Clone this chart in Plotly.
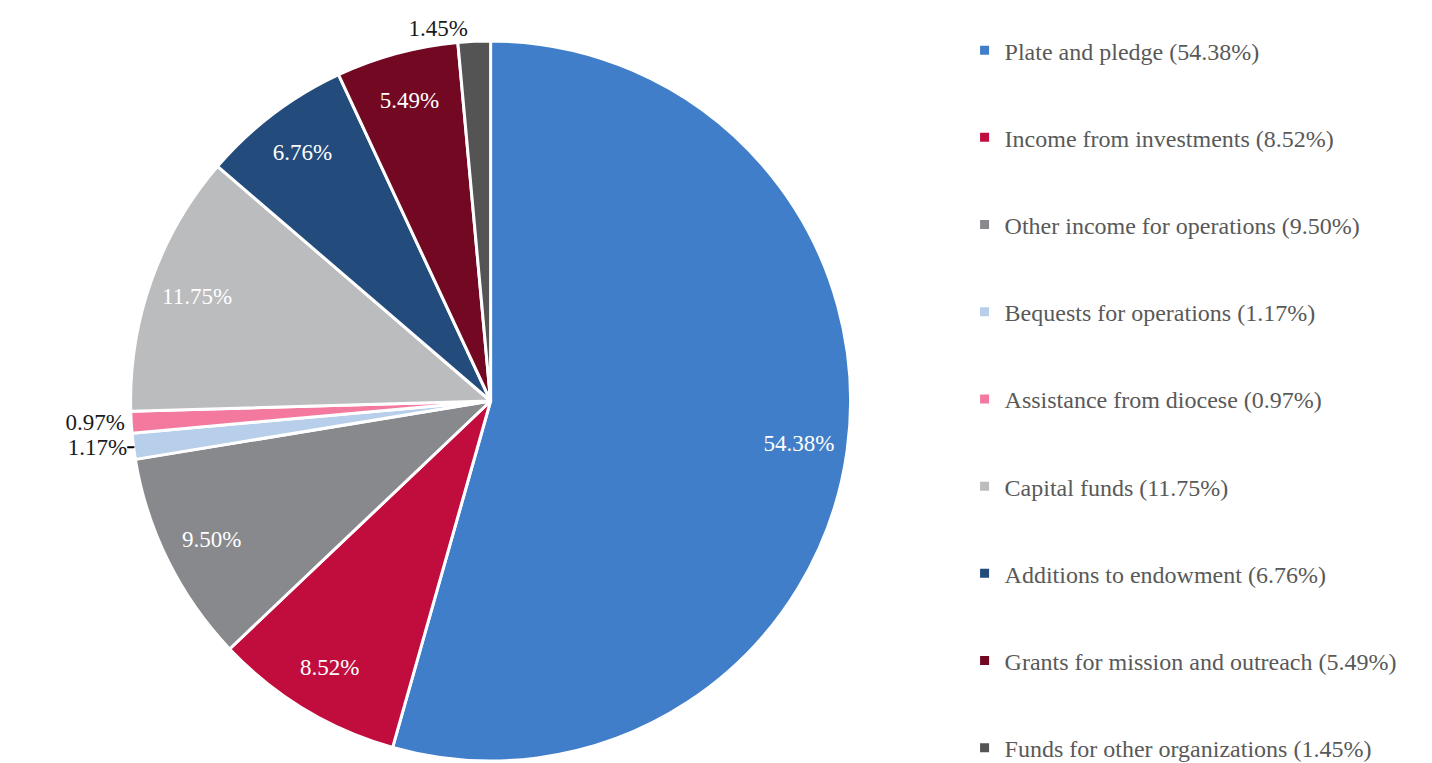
import plotly.graph_objects as go

categories = ["Plate and pledge", "Income from investments", "Other income for operations",
              "Bequests for operations", "Assistance from diocese", "Capital funds",
              "Additions to endowment", "Grants for mission and outreach", "Funds for other organizations"]
values = [54.38, 8.52, 9.50, 1.17, 0.97, 11.75, 6.76, 5.49, 1.45]
colors = ["#407EC9", "#C00D3E", "#87898C", "#B7CFEA", "#F37A9E", "#BBBCBE", "#234B7C", "#730823", "#545454"]
text_pos = ["inside", "inside", "inside", "outside", "outside", "inside", "inside", "inside", "outside"]
text_col = ["white", "white", "white", "#1a1a1a", "#1a1a1a", "white", "white", "white", "#1a1a1a"]

FONT = "Liberation Serif"
DOM = dict(x=[0.0, 0.674], y=[0, 1])

fig = go.Figure()
# full pie (the slices)
fig.add_trace(go.Pie(
    labels=categories, values=values, sort=False, direction="clockwise", rotation=0,
    marker=dict(colors=colors, line=dict(color="white", width=3)),
    textinfo="none", domain=DOM, showlegend=False, hoverinfo="label+value",
))
# invisible outer ring of the same slices, carrying the data labels near the rim
fig.add_trace(go.Pie(
    labels=categories, values=values, sort=False, direction="clockwise", rotation=0,
    hole=0.73,
    marker=dict(colors=["rgba(0,0,0,0)"] * len(values), line=dict(width=0)),
    texttemplate="%{value:.2f}%", textposition=text_pos,
    textfont=dict(family=FONT, size=23, color=text_col),
    insidetextorientation="horizontal",
    domain=DOM, showlegend=False, hoverinfo="skip",
))

for i, (c, v, col) in enumerate(zip(categories, values, colors)):
    fig.add_trace(go.Scatter(
        x=[None], y=[None], mode="markers",
        marker=dict(symbol="square", size=9, color=col),
        name=f"{c} ({v:.2f}%)", legendgroup=f"g{i}", showlegend=True,
    ))

fig.update_layout(
    width=1432, height=763,
    margin=dict(l=0, r=0, t=33, b=10, autoexpand=False),
    paper_bgcolor="white", plot_bgcolor="white",
    xaxis=dict(visible=False), yaxis=dict(visible=False),
    uniformtext=dict(minsize=23, mode="show"),
    legend=dict(x=0.668, y=1.018, xanchor="left", yanchor="top",
                font=dict(family=FONT, size=24, color="#595959"),
                tracegroupgap=53, itemwidth=30, bgcolor="rgba(0,0,0,0)",
                maxheight=2000),
    font=dict(family=FONT),
)
fig.write_html("out.html")
